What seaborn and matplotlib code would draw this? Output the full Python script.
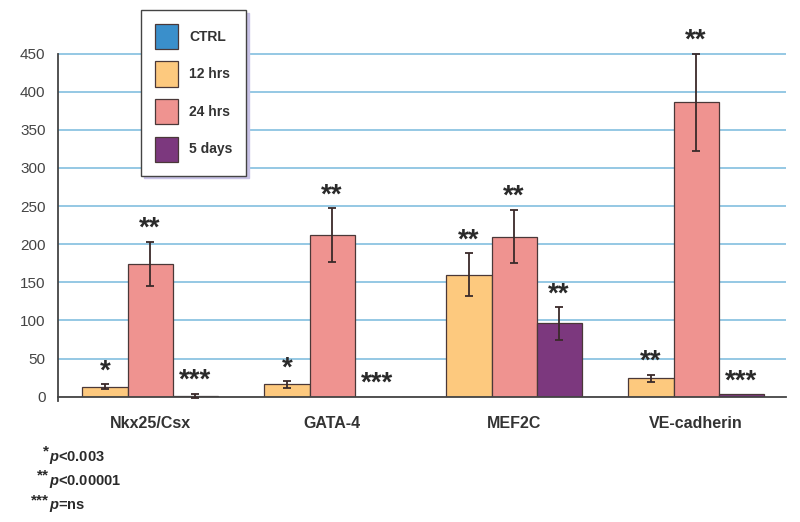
import numpy as np
import pandas as pd
import matplotlib.pyplot as plt
import seaborn as sns
from matplotlib.patches import Patch

genes = ['Nkx25/Csx', 'GATA-4', 'MEF2C', 'VE-cadherin']
groups = ['CTRL', '12 hrs', '24 hrs', '5 days']
colors = ['#3a8fcb', '#fdc97e', '#ef9390', '#7c387e']

ctrl = [0, 0, 0, 0]
hrs12 = [13, 16, 160, 24]
hrs24 = [174, 212, 210, 386]
days5 = [1, 0, 96, 3]

err12 = [3.5, 4, 28, 4.5]
err24 = [29, 35, 35, 64]
err5 = [2.5, 0, 21, 0]

stars12 = ['*', '*', '**', '**']
stars24 = ['**', '**', '**', '**']
stars5 = ['***', '***', '**', '***']

footnotes = [('*', '<0.003'), ('**', '<0.00001'), ('***', '=ns')]

df = pd.DataFrame({
    'gene': genes * 4,
    'group': [g for g in groups for _ in genes],
    'value': ctrl + hrs12 + hrs24 + days5,
})

sns.set_style('white')
plt.rcParams['font.family'] = ['Liberation Sans', 'DejaVu Sans']
plt.rcParams['mathtext.fontset'] = 'custom'
plt.rcParams['mathtext.it'] = 'Liberation Sans:bold:italic'
plt.rcParams['mathtext.rm'] = 'Liberation Sans:bold'

fig = plt.figure(figsize=(8, 5.22), dpi=100)
ax = fig.add_axes([58 / 800, (522 - 396.7) / 522, 728 / 800, (396.7 - 20) / 522])

sns.barplot(data=df, x='gene', y='value', hue='group', hue_order=groups,
            palette=colors, saturation=1, width=0.99, errorbar=None,
            edgecolor='#4a3838', linewidth=0.9, ax=ax, legend=False)

series = [(hrs12, err12, stars12), (hrs24, err24, stars24), (days5, err5, stars5)]
for k, (vals, errs, stars) in enumerate(series):
    for bar, v, e, s in zip(ax.containers[k + 1], vals, errs, stars):
        x = bar.get_x() + bar.get_width() / 2
        if e > 0:
            ax.errorbar(x, v, yerr=e, fmt='none', ecolor='#3a2a2a',
                        elinewidth=1.3, capsize=3, capthick=1.3, clip_on=False, zorder=4)
        ax.text(x, v + e + 17, s, ha='center', va='center', fontsize=20,
                fontweight='bold', color='#2a2a2a')

ax.set_xlim(-0.382, 3.618)
ax.set_ylim(0, 494)

ax.set_yticks(np.arange(0, 451, 50))
for y in range(50, 451, 50):
    ax.axhline(y, color='#8cc4e2', lw=1.3, zorder=0)
ax.tick_params(axis='y', length=6, width=1.2, color='#8cc4e2', labelsize=11,
               labelcolor='#444444', pad=3)

ax.set_xticks([i + 0.124 for i in range(4)])
ax.set_xticklabels(genes, fontsize=11.5, fontweight='bold', color='#333333')
ax.set_xticks([i + 0.52 for i in range(3)], minor=True)
ax.tick_params(axis='x', which='major', length=0, pad=14)
ax.tick_params(axis='x', which='minor', direction='inout', length=14, width=1, color='#555555')
ax.set_xlabel('')
ax.set_ylabel('')

for side in ['top', 'right']:
    ax.spines[side].set_visible(False)
ax.spines['left'].set_bounds(-5, 450)
ax.spines['left'].set_color('#444444')
ax.spines['left'].set_linewidth(1.3)
ax.spines['bottom'].set_color('#444444')
ax.spines['bottom'].set_linewidth(1.3)
ax.spines['left'].set_clip_on(False)

handles = [Patch(facecolor=c, edgecolor='#4a3838', linewidth=0.9) for c in colors]
leg = ax.legend(handles, groups, loc='upper left',
                bbox_to_anchor=(141 / 800, 1 - 10 / 522), bbox_transform=fig.transFigure,
                borderaxespad=0, prop={'weight': 'bold', 'size': 10},
                handlelength=1.65, handleheight=2.4, labelspacing=0.9,
                handletextpad=0.8, borderpad=1.0, fancybox=False,
                shadow={'color': '#c8c2e6', 'alpha': 1})
leg.get_frame().set_edgecolor('#444444')
leg.get_frame().set_linewidth(1)
for t in leg.get_texts():
    t.set_color('#333333')

ys = [457, 481, 506]
for (st, rest), y in zip(footnotes, ys):
    fig.text(49 / 800, 1 - (y - 6) / 522, st, ha='right', va='center',
             fontsize=11, fontweight='bold', color='#2a2a2a')
    fig.text(49 / 800, 1 - y / 522, r'$\it{p}$' + rest, ha='left', va='center',
             fontsize=10.5, fontweight='bold', color='#2a2a2a')

fig.savefig('out.png', dpi=100)
